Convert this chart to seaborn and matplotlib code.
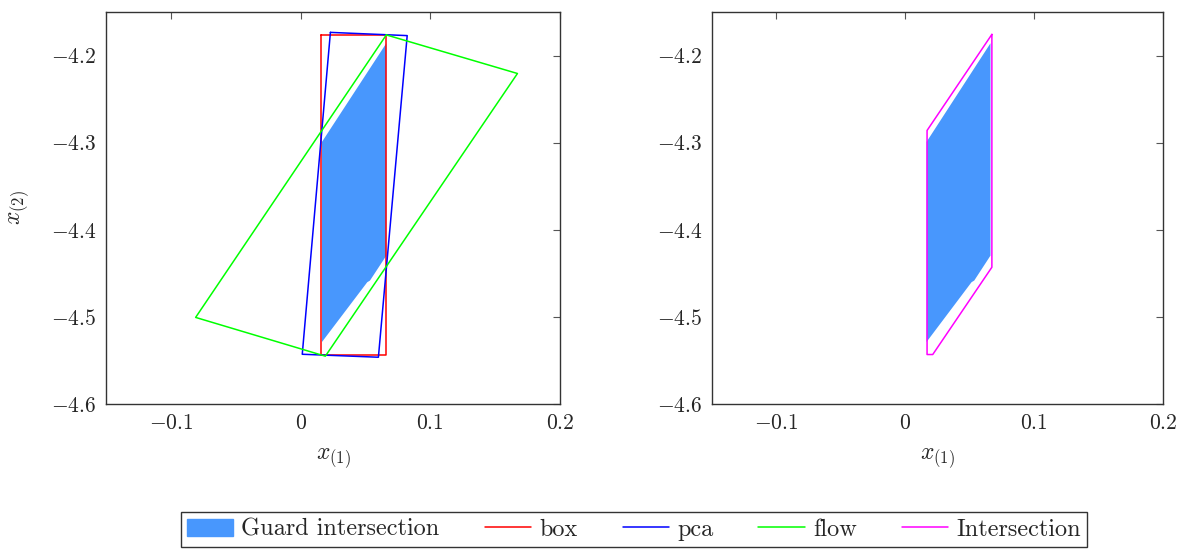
import numpy as np
import pandas as pd
import matplotlib
matplotlib.use("Agg")
import matplotlib.pyplot as plt
from matplotlib.patches import Patch
from matplotlib.lines import Line2D
import seaborn as sns

# ---- data ----
guard_x = [0.0661, 0.0165, 0.0165, 0.0514, 0.0535, 0.0661]
guard_y = [-4.1859, -4.2991, -4.5288, -4.4602, -4.4583, -4.4297]

box_x = [0.0160, 0.0661, 0.0661, 0.0160, 0.0160]
box_y = [-4.1763, -4.1763, -4.5432, -4.5432, -4.1763]

pca_x = [0.0230, 0.0822, 0.0600, 0.0013, 0.0230]
pca_y = [-4.1734, -4.1771, -4.5463, -4.5429, -4.1734]

flow_x = [0.0661, 0.1672, 0.0191, -0.0809, 0.0661]
flow_y = [-4.1763, -4.2206, -4.5451, -4.5006, -4.1763]

inter_x = [0.0672, 0.0169, 0.0169, 0.0213, 0.0672, 0.0672]
inter_y = [-4.1757, -4.2860, -4.5432, -4.5432, -4.4430, -4.1757]

xticks = [-0.1, 0.0, 0.1, 0.2]
yticks = [-4.6, -4.5, -4.4, -4.3, -4.2]
legend_labels = ["Guard intersection", "box", "pca", "flow", "Intersection"]

GUARD_C = "#4897FD"
C_BOX, C_PCA, C_FLOW, C_INT = "#FF0000", "#0000FF", "#00FF00", "#FF00FF"

sns.set_theme(style="white")
plt.rcParams["font.family"] = ["serif"]
plt.rcParams["font.serif"] = ["cmr10", "DejaVu Serif"]
plt.rcParams["mathtext.fontset"] = "cm"
plt.rcParams["axes.formatter.use_mathtext"] = True
plt.rcParams["axes.unicode_minus"] = True

fig = plt.figure(figsize=(11.82, 5.49), dpi=100)
W, H = 1182, 549
ax1 = fig.add_axes([106 / W, (H - 404) / H, 454 / W, 392 / H])
ax2 = fig.add_axes([712 / W, (H - 404) / H, 451 / W, 392 / H])


def outline(ax, xs, ys, color):
    df = pd.DataFrame({"x": xs, "y": ys})
    sns.lineplot(data=df, x="x", y="y", sort=False, estimator=None,
                 color=color, linewidth=1.1, ax=ax)


for ax in (ax1, ax2):
    ax.fill(guard_x, guard_y, color=GUARD_C, linewidth=0)

outline(ax1, box_x, box_y, C_BOX)
outline(ax1, pca_x, pca_y, C_PCA)
outline(ax1, flow_x, flow_y, C_FLOW)
outline(ax2, inter_x, inter_y, C_INT)

for ax in (ax1, ax2):
    ax.set_xlim(-0.15, 0.2)
    ax.set_ylim(-4.6, -4.15)
    ax.set_xticks(xticks)
    ax.set_yticks(yticks)
    ax.set_xticklabels([f"${v:g}$" for v in xticks])
    ax.set_yticklabels([f"${v:g}$" for v in yticks])
    ax.tick_params(direction="in", top=True, right=True, length=5,
                   width=0.8, color="#555555", labelsize=15.5, pad=7)
    for s in ax.spines.values():
        s.set_color("#333333")
        s.set_linewidth(1.0)
    ax.set_xlabel(r"$x_{(1)}$", fontsize=17, labelpad=9)
    ax.set_ylabel("")
    ax.grid(False)

ax1.set_ylabel(r"$x_{(2)}$", fontsize=17, labelpad=14)

handles = [
    Patch(facecolor=GUARD_C, edgecolor=GUARD_C),
    Line2D([], [], color=C_BOX, lw=1.1),
    Line2D([], [], color=C_PCA, lw=1.1),
    Line2D([], [], color=C_FLOW, lw=1.1),
    Line2D([], [], color=C_INT, lw=1.1),
]
leg = fig.legend(handles, legend_labels, loc="lower center", ncol=5,
                 bbox_to_anchor=(634 / W, 2 / H), fontsize=17.5,
                 frameon=True, fancybox=False, edgecolor="black",
                 handlelength=1.9, handleheight=0.75, columnspacing=1.85,
                 handletextpad=0.35, borderpad=0.25, borderaxespad=0)
leg.get_frame().set_linewidth(1.0)

fig.savefig("out.png", dpi=100)
